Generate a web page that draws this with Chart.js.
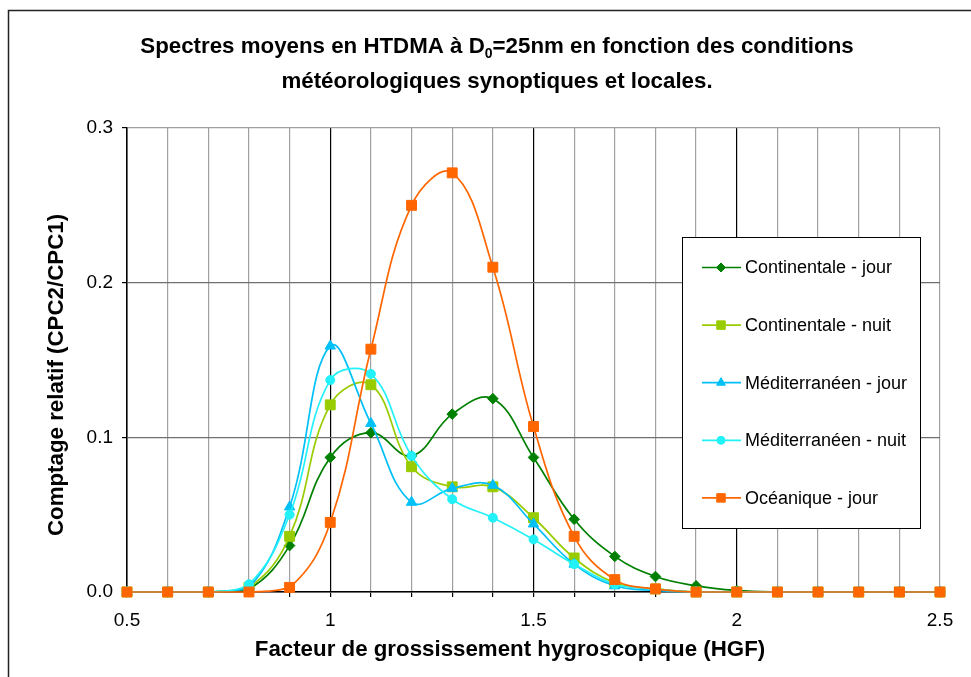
<!DOCTYPE html>
<html><head><meta charset="utf-8">
<script src="https://cdn.jsdelivr.net/npm/chart.js@4.4.0/dist/chart.umd.min.js"></script>
<style>html,body{margin:0;padding:0;background:#fff;}canvas{display:block;}</style>
</head><body>
<canvas id="c" width="971" height="677"></canvas>
<script>
// ---- data ----
const hgf = [0.5,0.6,0.7,0.8,0.9,1.0,1.1,1.2,1.3,1.4,1.5,1.6,1.7,1.8,1.9,2.0,2.1,2.2,2.3,2.4,2.5];
const continentaleJour = [0,0,0,0.002,0.030,0.087,0.103,0.088,0.115,0.125,0.087,0.047,0.023,0.010,0.004,0.001,0,0,0,0,0];
const continentaleNuit = [0,0,0,0.003,0.036,0.121,0.134,0.081,0.068,0.068,0.048,0.022,0.006,0.002,0,0,0,0,0,0,0];
const mediterraneenJour = [0,0,0,0.003,0.055,0.159,0.109,0.058,0.067,0.069,0.044,0.018,0.004,0.001,0,0,0,0,0,0,0];
const mediterraneenNuit = [0,0,0,0.005,0.050,0.137,0.141,0.088,0.060,0.048,0.034,0.018,0.005,0.002,0,0,0,0,0,0,0];
const oceaniqueJour = [0,0,0,0,0.003,0.045,0.157,0.250,0.271,0.210,0.107,0.036,0.008,0.002,0,0,0,0,0,0,0];
const seriesNames = ['Continentale - jour','Continentale - nuit','Méditerranéen - jour','Méditerranéen - nuit','Océanique - jour'];
const yTicks = [0,0.1,0.2,0.3];
const xLabelTicks = [0.5,1,1.5,2,2.5];
const titleLine1 = ['Spectres moyens en HTDMA à D','0','=25nm en fonction des conditions'];
const titleLine2 = 'météorologiques synoptiques et locales.';
const xTitle = 'Facteur de grossissement hygroscopique (HGF)';
const yTitle = 'Comptage relatif (CPC2/CPC1)';

const FONT = '"Liberation Sans", Arial, sans-serif';
const styles = [
  {color:'#008000', pointStyle:'rectRot', radius:5.3, lr:4.5},
  {color:'#99CC00', pointStyle:'rect', radius:7, lr:6},
  {color:'#00C0F8', pointStyle:'triangle', radius:6, lr:5},
  {color:'#22F2F8', pointStyle:'circle', radius:4.5, lr:4},
  {color:'#FF6600', pointStyle:'rect', radius:7, lr:6}
];
const values = [continentaleJour, continentaleNuit, mediterraneenJour, mediterraneenNuit, oceaniqueJour];

const datasets = values.map((vals, i) => ({
  label: seriesNames[i],
  data: hgf.map((x, k) => ({x: x, y: vals[k]})),
  borderColor: styles[i].color,
  backgroundColor: styles[i].color,
  pointBackgroundColor: styles[i].color,
  pointBorderColor: styles[i].color,
  pointStyle: styles[i].pointStyle,
  pointRadius: styles[i].radius,
  pointBorderWidth: 1,
  borderWidth: 1.7,
  tension: 0.4,
  order: 5 - i,
  clip: 6
}));

const decor = {
  id: 'decor',
  beforeDraw(chart) {
    const ctx = chart.ctx;
    ctx.save();
    ctx.fillStyle = '#fff';
    ctx.fillRect(0, 0, chart.width, chart.height);
    ctx.restore();
  },
  afterDraw(chart) {
    const ctx = chart.ctx;
    ctx.save();
    // outer frame
    ctx.strokeStyle = '#222';
    ctx.lineWidth = 1.5;
    ctx.strokeRect(8.5, 10.5, 1000, 700);
    // title
    ctx.fillStyle = '#000';
    ctx.textBaseline = 'middle';
    const big = 'bold 22.3px ' + FONT, small = 'bold 14px ' + FONT;
    ctx.font = big;
    const w1 = ctx.measureText(titleLine1[0]).width;
    const w3 = ctx.measureText(titleLine1[2]).width;
    ctx.font = small;
    const w2 = ctx.measureText(titleLine1[1]).width;
    let x = 497 - (w1 + w2 + w3) / 2;
    ctx.textAlign = 'left';
    ctx.font = big; ctx.fillText(titleLine1[0], x, 47); x += w1;
    ctx.font = small; ctx.fillText(titleLine1[1], x, 54); x += w2;
    ctx.font = big; ctx.fillText(titleLine1[2], x, 47);
    ctx.textAlign = 'center';
    ctx.fillText(titleLine2, 497, 82);
    // axis titles
    ctx.font = 'bold 22.3px ' + FONT;
    ctx.fillText(xTitle, 510, 650);
    ctx.save();
    ctx.translate(57, 375);
    ctx.rotate(-Math.PI / 2);
    ctx.fillText(yTitle, 0, 0);
    ctx.restore();
    // legend
    ctx.fillStyle = '#fff';
    ctx.fillRect(682.5, 237.5, 238, 291);
    ctx.strokeStyle = '#000';
    ctx.lineWidth = 1;
    ctx.strokeRect(682.5, 237.5, 238, 291);
    ctx.font = '18px ' + FONT;
    ctx.textAlign = 'left';
    chart.data.datasets.forEach((ds, i) => {
      const y = 267.5 + i * 57.6;
      ctx.strokeStyle = ds.borderColor;
      ctx.lineWidth = 1.7;
      ctx.beginPath(); ctx.moveTo(702, y); ctx.lineTo(741, y); ctx.stroke();
      ctx.fillStyle = ds.borderColor;
      ctx.lineWidth = 1;
      Chart.helpers.drawPoint(ctx, {pointStyle: ds.pointStyle, radius: styles[i].lr, rotation: 0, borderWidth: 1}, 721, y);
      ctx.fillStyle = '#000';
      ctx.fillText(ds.label, 745, y + 1);
    });
    ctx.restore();
  }
};

new Chart(document.getElementById('c'), {
  type: 'line',
  data: {datasets},
  options: {
    responsive: false,
    animation: false,
    devicePixelRatio: 1,
    layout: {padding: {top: 128, right: 31, left: 0, bottom: 0}},
    plugins: {legend: {display: false}, title: {display: false}, tooltip: {enabled: false}},
    scales: {
      x: {
        type: 'linear', min: 0.5, max: 2.5,
        afterFit(s) { s.height = 85; },
        afterBuildTicks(s) { s.ticks = hgf.map(v => ({value: v})); },
        ticks: {
          autoSkip: false, maxRotation: 0, padding: 12,
          font: {family: FONT, size: 19}, color: '#000',
          callback: (v) => xLabelTicks.some(t => Math.abs(t - v) < 1e-6) ? String(+v.toFixed(1)) : ''
        },
        grid: {
          color: (c) => {
            const v = c.tick ? c.tick.value : 0;
            return (Math.abs(v * 2 - Math.round(v * 2)) < 1e-6 && v < 2.45) ? '#000' : '#A0A0A0';
          },
          lineWidth: 1.2, tickLength: 5, tickColor: '#000', drawTicks: true
        },
        border: {color: '#000', width: 1.5}
      },
      y: {
        min: 0, max: 0.3,
        afterFit(s) { s.width = 127; },
        afterBuildTicks(s) { s.ticks = yTicks.map(v => ({value: v})); },
        ticks: {padding: 9, font: {family: FONT, size: 19}, color: '#000', callback: (v) => v.toFixed(1)},
        grid: {
          color: (c) => (c.tick && c.tick.value > 0.25) ? '#A0A0A0' : '#707070',
          lineWidth: 1.2, tickLength: 5, tickColor: '#000'
        },
        border: {color: '#000', width: 1.5}
      }
    }
  },
  plugins: [decor]
});
</script>
</body></html>
